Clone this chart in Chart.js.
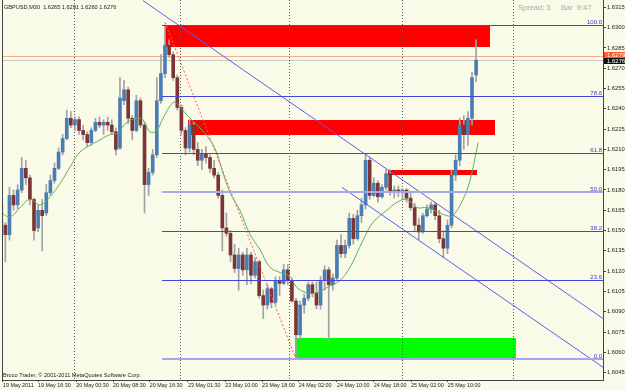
<!DOCTYPE html>
<html>
<head>
<meta charset="utf-8">
<script src="https://cdn.jsdelivr.net/npm/chart.js@4.4.1/dist/chart.umd.min.js"></script>
<style>
  html, body { margin: 0; padding: 0; background: #fafae8; }
  canvas { display: block; }
</style>
</head>
<body>
<canvas id="chart" width="625" height="390"></canvas>
<script>
// GBPUSD M30 candles, index 0 = first visible bar
const opens = [
  1.6169,1.6154,1.6147,1.6176,1.6169,1.6180,1.6196,1.6189,1.6173,1.6152,
  1.6165,1.6163,1.6178,1.6187,1.6196,1.6208,1.6218,1.6233,1.6228,1.6232,
  1.6224,1.6221,1.6215,1.6224,1.6230,1.6228,1.6230,1.6228,1.6223,1.6211,
  1.6246,1.6254,1.6233,1.6224,1.6246,1.6228,1.6184,1.6193,1.6206,1.6246,
  1.6266,1.6287,1.6280,1.6263,1.6241,1.6224,1.6211,1.6228,1.6210,1.6202,
  1.6207,1.6204,1.6196,1.6191,1.6176,1.6152,1.6148,1.6132,1.6122,1.6132,
  1.6121,1.6132,1.6117,1.6127,1.6102,1.6095,1.6107,1.6097,1.6113,1.6111,
  1.6121,1.6113,1.6098,1.6073,1.6095,1.6100,1.6110,1.6104,1.6095,1.6113,
  1.6121,1.6110,1.6115,1.6139,1.6133,1.6139,1.6159,1.6144,1.6161,1.6169,
  1.6202,1.6176,1.6185,1.6175,1.6182,1.6192,1.6178,1.6180,1.6178,1.6180,
  1.6174,1.6167,1.6154,1.6149,1.6161,1.6166,1.6169,1.6161,1.6144,1.6137,
  1.6154,1.6191,1.6202,1.6228,1.6221,1.6233,1.6265
];
const highs = [
  1.6173,1.6156,1.6182,1.6180,1.6184,1.6204,1.6202,1.6191,1.6174,1.6169,
  1.6173,1.6184,1.6191,1.6200,1.6211,1.6221,1.6239,1.6238,1.6234,1.6234,
  1.6228,1.6223,1.6226,1.6233,1.6234,1.6232,1.6234,1.6232,1.6226,1.6263,
  1.6261,1.6256,1.6235,1.6250,1.6248,1.6230,1.6196,1.6210,1.6263,1.6280,
  1.6302,1.6291,1.6282,1.6265,1.6243,1.6226,1.6232,1.6230,1.6215,1.6210,
  1.6212,1.6206,1.6202,1.6193,1.6180,1.6163,1.6150,1.6140,1.6137,1.6134,
  1.6137,1.6134,1.6130,1.6128,1.6106,1.6110,1.6108,1.6116,1.6116,1.6125,
  1.6125,1.6115,1.6100,1.6098,1.6103,1.6112,1.6112,1.6112,1.6116,1.6124,
  1.6123,1.6118,1.6143,1.6147,1.6143,1.6163,1.6162,1.6165,1.6174,1.6207,
  1.6204,1.6189,1.6187,1.6184,1.6195,1.6195,1.6183,1.6183,1.6181,1.6181,
  1.6178,1.6170,1.6159,1.6163,1.6169,1.6171,1.6171,1.6165,1.6150,1.6158,
  1.6195,1.6206,1.6233,1.6235,1.6238,1.6267,1.6291
];
const lows = [
  1.6149,1.6127,1.6143,1.6165,1.6166,1.6178,1.6184,1.6169,1.6143,1.6149,
  1.6135,1.6161,1.6176,1.6185,1.6195,1.6206,1.6217,1.6226,1.6224,1.6221,
  1.6217,1.6212,1.6213,1.6223,1.6226,1.6221,1.6224,1.6221,1.6206,1.6210,
  1.6243,1.6229,1.6217,1.6223,1.6226,1.6163,1.6176,1.6191,1.6204,1.6244,
  1.6263,1.6278,1.6261,1.6239,1.6221,1.6206,1.6208,1.6206,1.6198,1.6195,
  1.6200,1.6193,1.6189,1.6174,1.6135,1.6146,1.6127,1.6119,1.6106,1.6117,
  1.6110,1.6111,1.6115,1.6100,1.6085,1.6092,1.6093,1.6095,1.6102,1.6110,
  1.6110,1.6097,1.6055,1.6069,1.6089,1.6098,1.6101,1.6092,1.6092,1.6106,
  1.6068,1.6106,1.6113,1.6130,1.6130,1.6137,1.6140,1.6143,1.6156,1.6166,
  1.6173,1.6175,1.6171,1.6174,1.6180,1.6176,1.6174,1.6175,1.6173,1.6171,
  1.6165,1.6150,1.6143,1.6148,1.6160,1.6163,1.6158,1.6141,1.6130,1.6133,
  1.6152,1.6187,1.6198,1.6210,1.6213,1.6228,1.6260
];
const closes = [
  1.6154,1.6147,1.6176,1.6169,1.6180,1.6196,1.6189,1.6173,1.6150,1.6165,
  1.6161,1.6178,1.6187,1.6196,1.6208,1.6218,1.6233,1.6228,1.6232,1.6224,
  1.6221,1.6215,1.6224,1.6230,1.6228,1.6230,1.6228,1.6223,1.6210,1.6248,
  1.6254,1.6233,1.6224,1.6246,1.6228,1.6184,1.6193,1.6206,1.6246,1.6266,
  1.6287,1.6280,1.6263,1.6241,1.6224,1.6211,1.6228,1.6210,1.6202,1.6207,
  1.6204,1.6196,1.6191,1.6176,1.6152,1.6148,1.6132,1.6122,1.6132,1.6121,
  1.6132,1.6117,1.6127,1.6102,1.6095,1.6107,1.6097,1.6113,1.6111,1.6121,
  1.6113,1.6098,1.6073,1.6095,1.6100,1.6110,1.6104,1.6095,1.6113,1.6121,
  1.6110,1.6115,1.6139,1.6133,1.6139,1.6159,1.6144,1.6161,1.6169,1.6202,
  1.6176,1.6185,1.6175,1.6182,1.6192,1.6178,1.6180,1.6178,1.6180,1.6174,
  1.6167,1.6154,1.6149,1.6161,1.6166,1.6169,1.6161,1.6144,1.6137,1.6154,
  1.6191,1.6202,1.6228,1.6221,1.6233,1.6263,1.6276
];

// moving average (bar index / price)
const maIdx = [0.2, 2.1, 4.6, 7.0, 9.5, 11.9, 14.4, 16.8, 19.2, 21.7, 24.1, 26.6, 28.3, 30.7, 33.2, 34.6,
  36.3, 38.0, 39.5, 42.2, 43.7, 46.1, 48.5, 51.0, 52.7, 53.9, 55.9, 58.3, 60.8, 63.2, 65.6, 68.1, 70.5,
  72.2, 74.7, 77.1, 79.6, 82.7, 85.2, 88.4, 90.8, 94.2, 96.7, 99.1, 101.6, 104.0, 106.4, 108.9, 110.3,
  112.8, 114.5, 116.5];
const maVals = [1.6163, 1.6160, 1.6167, 1.6173, 1.6169, 1.6175, 1.6185, 1.6197, 1.6208, 1.6213, 1.6217,
  1.6221, 1.6222, 1.6230, 1.6233, 1.6232, 1.6223, 1.6224, 1.6233, 1.6245, 1.6241, 1.6233, 1.6226, 1.6217,
  1.6207, 1.6195, 1.6178, 1.6165, 1.6147, 1.6136, 1.6123, 1.6119, 1.6116, 1.6108, 1.6104, 1.6104, 1.6108,
  1.6113, 1.6123, 1.6143, 1.6156, 1.6165, 1.6171, 1.6173, 1.6167, 1.6167, 1.6164, 1.6161, 1.6161, 1.6173,
  1.6187, 1.6215];

const priceTicks = [1.6045, 1.6060, 1.6075, 1.6090, 1.6105, 1.6120, 1.6135, 1.6150, 1.6165, 1.6180,
  1.6195, 1.6210, 1.6225, 1.6240, 1.6255, 1.6270, 1.6285, 1.6300, 1.6315];
const timeTickIdx = [0.4, 9, 18.3, 27.3, 36.3, 45.6, 54.7, 63.7, 72.7, 82, 91, 100.1, 109.1];
const timeLabels = ['19 May 2011', '19 May 16:30', '20 May 00:30', '20 May 08:30', '20 May 16:30',
  '23 May 01:30', '23 May 10:00', '23 May 18:00', '24 May 02:00', '24 May 10:00', '24 May 18:00',
  '25 May 02:00', '25 May 10:00'];
const gridIdx = [17.8, 43.9, 70.3, 97.9, 125.2];

// fibonacci retracement
const fibLevels = [0, 23.6, 38.2, 50, 61.8, 78.6, 100];
const fibHigh = 1.6302, fibLow = 1.6055, fibStart = 39.3;
const fibDiagonal = [[40, 1.6304], [72, 1.6055]];

// trend / channel lines
const trendLines = [
  [[34.6, 1.6320], [147, 1.6085]],
  [[83.2, 1.6182], [147, 1.6049]]
];

// rectangles: red supply zones and green demand zone
const zoneStart = [40.0, 45.6, 94.5, 71.8];
const zoneEnd = [119.4, 120.6, 116.2, 125.7];
const zoneHigh = [1.6302, 1.6232, 1.6195, 1.6071];
const zoneLow = [1.6286, 1.6221, 1.6191, 1.6055];

const askPrice = 1.6279, bidPrice = 1.6276;

const xMin = 0.18, xMax = 147;
const yMin = 1.60396, yMax = 1.63204;

const FONT = '"Liberation Sans", Arial, sans-serif';
Chart.defaults.font.family = FONT;
Chart.defaults.font.size = 6;

const zoneColors = ['#ff0000', '#ff0000', '#ff0000', '#00ff00'];

const barIdx = opens.map((_, i) => i);
const wickData = barIdx.map(i => ({ x: i, y: [lows[i], highs[i]] }));
const bodyData = barIdx.map(i => ({ x: i, y: [opens[i], closes[i]] }));
const bodyColors = barIdx.map(i => closes[i] >= opens[i] ? '#4a7db4' : '#7c3434');

const fibPrice = lv => fibLow + (fibHigh - fibLow) * lv / 100;

const lineSet = (pts, color, width, dash) => ({
    type: 'line',
    data: pts.map(p => ({ x: p[0], y: p[1] })),
    borderColor: color,
    borderWidth: width,
    borderDash: dash || [],
    pointRadius: 0,
    tension: 0,
    order: 1
});

// horizontal levels drawn on whole pixels so they stay crisp like the terminal
function hLine(ctx, x1, x2, yPix, color, width) {
    const yy = width % 2 ? Math.round(yPix) + 0.5 : Math.round(yPix);
    ctx.strokeStyle = color;
    ctx.lineWidth = width;
    ctx.beginPath();
    ctx.moveTo(x1, yy);
    ctx.lineTo(x2, yy);
    ctx.stroke();
}

const chartDecor = {
    id: 'chartDecor',
    beforeDraw(chart) {
        const { ctx, chartArea: a, scales: { x, y } } = chart;
        ctx.save();
        ctx.fillStyle = '#fafae8';
        ctx.fillRect(0, 0, chart.width, chart.height);

        ctx.beginPath();
        ctx.rect(a.left, a.top, a.right - a.left, a.bottom - a.top);
        ctx.clip();
        zoneStart.forEach((s, i) => {
            const x1 = Math.round(x.getPixelForValue(s)), x2 = Math.round(x.getPixelForValue(zoneEnd[i]));
            const y1 = Math.round(y.getPixelForValue(zoneHigh[i])), y2 = Math.round(y.getPixelForValue(zoneLow[i]));
            ctx.fillStyle = zoneColors[i];
            ctx.fillRect(x1, y1, x2 - x1, y2 - y1);
        });

        // bid / ask lines sit behind the bars
        hLine(ctx, a.left, a.right, y.getPixelForValue(askPrice), '#f6ab92', 1);
        hLine(ctx, a.left, a.right, y.getPixelForValue(bidPrice), '#c8c8c0', 1);
        ctx.restore();
    },
    afterDatasetsDraw(chart) {
        const { ctx, chartArea: a, scales: { x, y } } = chart;
        ctx.save();
        ctx.beginPath();
        ctx.rect(a.left, a.top, a.right - a.left, a.bottom - a.top);
        ctx.clip();
        const xs = x.getPixelForValue(fibStart);
        fibLevels.forEach(lv => {
            const soft = lv === 50 || lv === 0;
            hLine(ctx, xs, a.right, y.getPixelForValue(fibPrice(lv)), soft ? '#a6a6ec' : '#4646d6', soft ? 2 : 1);
        });
        ctx.restore();
    },
    afterDraw(chart) {
        const { ctx, chartArea: a, scales: { y } } = chart;
        ctx.save();

        // left frame edge
        ctx.strokeStyle = '#444';
        ctx.lineWidth = 1;
        ctx.beginPath();
        ctx.moveTo(a.left + 0.5, a.top);
        ctx.lineTo(a.left + 0.5, a.bottom);
        ctx.stroke();

        // fib level captions
        ctx.font = '6px ' + FONT;
        ctx.fillStyle = '#3a3ad0';
        ctx.textAlign = 'right';
        ctx.textBaseline = 'bottom';
        fibLevels.forEach(lv => {
            ctx.fillText(lv.toFixed(1), a.right - 1, Math.round(y.getPixelForValue(fibPrice(lv))));
        });

        // header and footer
        ctx.textAlign = 'left';
        ctx.textBaseline = 'alphabetic';
        ctx.fillStyle = '#222';
        ctx.font = '5.6px ' + FONT;
        ctx.fillText('GBPUSD,M30  ' + [opens, highs, lows, closes].map(s => s[s.length - 1].toFixed(4)).join(' '), 4, 9);
        ctx.fillText('Broco Trader, \u00a9 2001-2011 MetaQuotes Software Corp.', 3, 377);

        ctx.font = '7.5px ' + FONT;
        ctx.fillStyle = '#a8a8a0';
        ctx.fillText('Spread: 3', 518, 10);
        ctx.fillText('Bar  9:47', 561, 10);

        // ask / bid tags on the price scale
        ctx.font = '6px ' + FONT;
        ctx.textBaseline = 'middle';
        const yA = Math.round(y.getPixelForValue(askPrice));
        ctx.fillStyle = '#ff5a28';
        ctx.fillRect(a.right + 1, yA - 4, 22, 6);
        ctx.fillStyle = '#fff';
        ctx.fillText(askPrice.toFixed(4), a.right + 4, yA - 1);
        const yB = Math.round(y.getPixelForValue(bidPrice));
        ctx.fillStyle = '#111';
        ctx.fillRect(a.right + 1, yB - 2, 22, 6);
        ctx.fillStyle = '#fff';
        ctx.fillText(bidPrice.toFixed(4), a.right + 4, yB + 1);
        ctx.restore();
    }
};

new Chart(document.getElementById('chart'), {
    type: 'bar',
    data: {
        datasets: [
            ...trendLines.map(t => lineSet(t, '#5c5cf2', 1)),
            lineSet(fibDiagonal, '#ff5c5c', 1, [2, 2]),
            {
                type: 'line',
                data: maIdx.map((v, i) => ({ x: v, y: maVals[i] })),
                borderColor: '#5cb35c',
                borderWidth: 1,
                pointRadius: 0,
                tension: 0.4,
                order: 2
            },
            {
                data: bodyData,
                backgroundColor: bodyColors,
                barThickness: 3,
                minBarLength: 1,
                grouped: false,
                order: 3
            },
            {
                data: wickData,
                backgroundColor: '#a2a2a2',
                barThickness: 1,
                grouped: false,
                order: 4
            }
        ]
    },
    options: {
        responsive: false,
        animation: false,
        devicePixelRatio: 1,
        layout: { padding: { left: 2, right: 0, top: 0, bottom: 0 } },
        plugins: { legend: { display: false }, tooltip: { enabled: false } },
        scales: {
            x: {
                type: 'linear', position: 'bottom', min: xMin, max: xMax, offset: false,
                afterBuildTicks: s => { s.ticks = timeTickIdx.map(v => ({ value: v })); },
                afterFit: s => { s.height = 10; s.paddingLeft = 0; s.paddingRight = 0; },
                ticks: {
                    autoSkip: false, maxRotation: 0, align: 'start', padding: 0, color: '#222',
                    font: { size: 5.4 },
                    callback: (v, i) => timeLabels[i]
                },
                grid: { drawOnChartArea: false, drawTicks: true, tickLength: 2, color: '#444', offset: false },
                border: { color: '#444' }
            },
            xg: {
                type: 'linear', position: 'top', min: xMin, max: xMax, offset: false,
                afterBuildTicks: s => { s.ticks = gridIdx.map(v => ({ value: v })); },
                afterFit: s => { s.height = 0; s.paddingLeft = 0; s.paddingRight = 0; },
                ticks: { display: false },
                grid: { color: '#5a5a5a', drawTicks: false, offset: false },
                border: { display: false, dash: [1, 2] }
            },
            y: {
                position: 'right', min: yMin, max: yMax,
                afterBuildTicks: s => { s.ticks = priceTicks.map(v => ({ value: v })); },
                afterFit: s => { s.width = 22; s.paddingTop = 0; s.paddingBottom = 0; },
                ticks: { autoSkip: false, padding: 1, color: '#222', font: { size: 5.8 }, callback: v => v.toFixed(4) },
                grid: { drawOnChartArea: false, tickLength: 3, color: '#444' },
                border: { color: '#444' }
            }
        }
    },
    plugins: [chartDecor]
});
</script>
</body>
</html>
